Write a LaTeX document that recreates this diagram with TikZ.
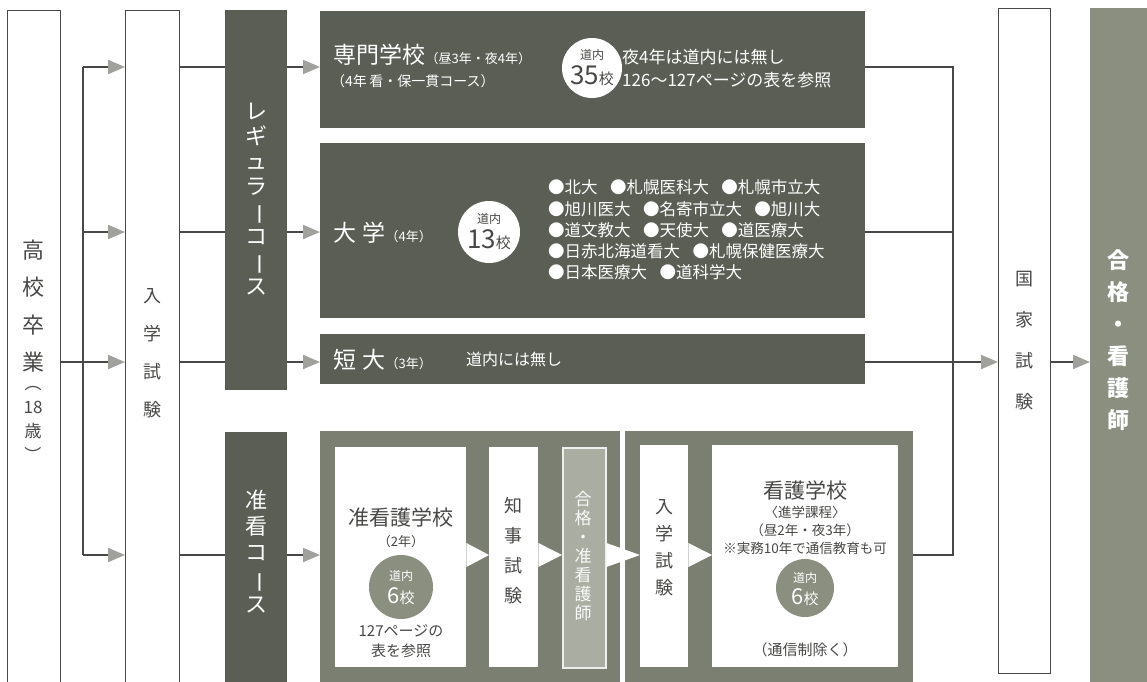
\documentclass[tikz,border=0pt]{standalone}
\usepackage{fontspec}
\usepackage{graphicx}
\setmainfont{Noto Sans CJK JP}
\usetikzlibrary{arrows.meta,positioning,calc}
\definecolor{slate}{RGB}{90,94,84}
\definecolor{fern}{RGB}{122,127,113}
\definecolor{moss}{RGB}{138,143,128}
\definecolor{mist}{RGB}{170,174,162}
\definecolor{ink}{RGB}{72,72,70}
\definecolor{tipgray}{RGB}{160,160,156}
\newcommand{\fs}[1]{\fontsize{#1}{#1}\selectfont}
\newcommand{\tbar}{\rotatebox[origin=c]{-90}{ー}}
\tikzset{
  >={Triangle[length=17pt,width=14pt,color=tipgray]},
  outline/.style={draw=ink,line width=1.3pt,fill=white,anchor=north west,inner sep=0pt},
  darkbar/.style={fill=#1,anchor=north west,inner sep=0pt},
  darkbar/.default=slate,
  card/.style={fill=white,anchor=north west,inner sep=0pt},
  vlabel/.style={align=center,inner sep=0pt,text=#1},
  vlabel/.default=ink,
  note/.style={anchor=west,inner sep=0pt,text=white},
  link/.style={draw=ink,line width=2pt},
  flow/.style={link,->},
  badge/.style={circle,fill=#1,minimum size=60pt,inner sep=0pt},
  badge/.default=white,
  wedge/.style={fill=white},
}

\begin{document}
\begin{tikzpicture}[x=1pt,y=-1pt]
  \useasboundingbox (0,0) rectangle (1147,681);
  % rows of the flow
  \coordinate (r1) at (0,67);
  \coordinate (r2) at (0,232);
  \coordinate (r3) at (0,362);
  \coordinate (r4) at (0,555);
  \coordinate (fork) at (83,0);
  \coordinate (bus) at (953,0);

  % left columns
  \node[outline,minimum width=53,minimum height=690] (grad) at (7,10) {};
  \node[outline,minimum width=54,minimum height=690] (exam) at (125,10) {};
  \node[darkbar,minimum width=62,minimum height=380] (reg) at (225,10) {};
  \node[darkbar,minimum width=62,minimum height=260] (assoc) at (225,432) {};
  \node[vlabel,font=\fontsize{22}{37.5}\selectfont] (gradtxt) at (33,306) {高\\校\\卒\\業};
  \node[vlabel,font=\fontsize{17}{24}\selectfont] (agetxt) at (33,424) {︵\\18\\歳\\︶};
  \node[vlabel,font=\fontsize{18}{38}\selectfont] (examtxt) at (152,353) {入\\学\\試\\験};
  \node[vlabel=white,font=\fontsize{22}{25}\selectfont] (regtxt) at (256,199)
    {レ\\ギ\\ュ\\ラ\\\tbar\\コ\\\tbar\\ス};
  \node[vlabel=white,font=\fontsize{22}{26}\selectfont] (assoctxt) at (256,552)
    {准\\看\\コ\\\tbar\\ス};

  % regular course boxes
  \node[darkbar,minimum width=545,minimum height=117] (senmon) at (320,11) {};
  \node[darkbar,minimum width=545,minimum height=175] (univ) at (320,143) {};
  \node[darkbar,minimum width=545,minimum height=50] (tandai) at (320,334) {};

  \node[note,font=\fs{23}] (senmontxt) at (333,55) {専門学校};
  \node[note,anchor=base west,font=\fs{13}] (senmonyrs) at (senmontxt.base east) {（昼3年・夜4年）};
  \node[note,font=\fs{14}] (senmonsub) at (331,81) {（4年\,看・保一貫コース）};
  \node[badge] (senmonbadge) at (592,68) {};
  \node[font=\fs{12},text=ink,inner sep=0pt] (senmonb1) at ([yshift=13pt]senmonbadge.center) {道内};
  \node[font=\fs{26},text=ink,inner sep=0pt] (senmonb2) at ([yshift=-8pt]senmonbadge.center) {35{\fs{15}校}};
  \node[note,font=\fs{17}] (senmonnote1) at (622,57) {夜4年は道内には無し};
  \node[note,font=\fs{17}] (senmonnote2) at (622,80) {126～127ページの表を参照};

  \node[note,font=\fs{23}] (univtxt) at (333,233) {大\hspace{6pt}学};
  \node[note,anchor=base west,font=\fs{13}] (univyrs) at (univtxt.base east) {（4年）};
  \node[badge,minimum size=62pt] (univbadge) at (489,232) {};
  \node[font=\fs{12},text=ink,inner sep=0pt] (univb1) at ([yshift=13pt]univbadge.center) {道内};
  \node[font=\fs{26},text=ink,inner sep=0pt] (univb2) at ([yshift=-8pt]univbadge.center) {13{\fs{15}校}};
  \node[note,align=left,font=\fontsize{16.5}{21.3}\selectfont] (univlist) at (548,230)
    {●北大\hspace{0.75em}●札幌医科大\hspace{0.75em}●札幌市立大\\
     ●旭川医大\hspace{0.75em}●名寄市立大\hspace{0.75em}●旭川大\\
     ●道文教大\hspace{0.75em}●天使大\hspace{0.75em}●道医療大\\
     ●日赤北海道看大\hspace{0.75em}●札幌保健医療大\\
     ●日本医療大\hspace{0.75em}●道科学大};

  \node[note,font=\fs{23}] (tandaitxt) at (333,360) {短\hspace{6pt}大};
  \node[note,anchor=base west,font=\fs{13}] (tandaiyrs) at (tandaitxt.base east) {（3年）};
  \node[note,font=\fs{16}] (tandainote) at (466,359) {道内には無し};

  % assistant nurse course
  \node[darkbar=fern,minimum width=300,minimum height=260] (frameA) at (320,431) {};
  \node[darkbar=fern,minimum width=288,minimum height=260] (frameB) at (625,431) {};
  \node[card,minimum width=131,minimum height=220] (prep) at (335,447) {};
  \node[card,minimum width=49,minimum height=220] (pref) at (489,447) {};
  \node[fill=mist,draw=white!80!mist,line width=1.5pt,anchor=north west,inner sep=0pt,
    minimum width=43,minimum height=220] (lic) at (562,447) {};
  \node[card,minimum width=48,minimum height=222] (exam2) at (640,445) {};
  \node[card,minimum width=186,minimum height=222] (nurse) at (712,445) {};
  \fill[wedge] ([yshift=12pt]prep.east |- r4) -- (pref.west |- r4) -- ([yshift=-12pt]prep.east |- r4) -- cycle;
  \fill[wedge] ([yshift=12pt]pref.east |- r4) -- (lic.west |- r4) -- ([yshift=-12pt]pref.east |- r4) -- cycle;
  \fill[wedge] ([yshift=12pt]lic.east |- r4) -- (exam2.west |- r4) -- ([yshift=-12pt]lic.east |- r4) -- cycle;
  \fill[wedge] ([yshift=12pt]exam2.east |- r4) -- (nurse.west |- r4) -- ([yshift=-12pt]exam2.east |- r4) -- cycle;

  \node[text=ink,font=\fs{21},inner sep=0pt] (preptxt) at (401,517) {准看護学校};
  \node[text=ink,font=\fs{13},inner sep=0pt] (prepyrs) at (401,542) {（2年）};
  \node[badge=moss,minimum size=64pt] (prepbadge) at (401,587) {};
  \node[font=\fs{12},text=white,inner sep=0pt] (prepb1) at ([yshift=11pt]prepbadge.center) {道内};
  \node[font=\fs{22},text=white,inner sep=0pt] (prepb2) at ([yshift=-9pt]prepbadge.center) {6{\fs{15}校}};
  \node[text=ink,font=\fontsize{15}{20}\selectfont,align=center,inner sep=0pt] (prepnote) at (401,641)
    {127ページの\\表を参照};
  \node[vlabel,font=\fontsize{18}{30}\selectfont] (preftxt) at (513,551) {知\\事\\試\\験};
  \node[vlabel=white!92!mist,font=\fontsize{17}{19}\selectfont] (lictxt) at (583,556)
    {合\\格\\・\\准\\看\\護\\師};
  \node[vlabel,font=\fontsize{18}{27}\selectfont] (exam2txt) at (664,548) {入\\学\\試\\験};
  \node[text=ink,font=\fs{21},inner sep=0pt] (nursetxt) at (805,490) {看護学校};
  \node[text=ink,font=\fontsize{13.5}{18}\selectfont,align=center,inner sep=0pt] (nursesub) at (805,530)
    {〈進学課程〉\\（昼2年・夜3年）\\※実務10年で通信教育も可};
  \node[badge=moss,minimum size=58pt] (nursebadge) at (805,588) {};
  \node[font=\fs{12},text=white,inner sep=0pt] (nurseb1) at ([yshift=10pt]nursebadge.center) {道内};
  \node[font=\fs{22},text=white,inner sep=0pt] (nurseb2) at ([yshift=-9pt]nursebadge.center) {6{\fs{15}校}};
  \node[text=ink,font=\fs{15},inner sep=0pt] (nursenote) at (805,650) {（通信制除く）};

  % national exam and goal
  \node[outline,minimum width=52,minimum height=665] (natl) at (998,8) {};
  \node[darkbar=moss,minimum width=60,minimum height=690] (pass) at (1090,8) {};
  \node[vlabel,font=\fontsize{18}{41}\selectfont] (natltxt) at (1024,341) {国\\家\\試\\験};
  \node[vlabel=white,font=\fontsize{22}{32}\selectfont\bfseries] (passtxt) at (1118,340)
    {合\\格\\・\\看\\護\\師};

  % connectors, left side
  \draw[link] (grad.east |- r3) -- (fork |- r3);
  \draw[link] (fork |- r1) -- (fork |- r4);
  \foreach \r in {r1,r2,r3,r4} {
    \draw[flow] (fork |- \r) -- (exam.west |- \r);
  }
  \foreach \r in {r1,r2,r3} {
    \draw[link] (exam.east |- \r) -- (reg.west |- \r);
    \draw[flow] (reg.east |- \r) -- (senmon.west |- \r);
  }
  \draw[link] (exam.east |- r4) -- (assoc.west |- r4);
  \draw[flow] (assoc.east |- r4) -- (frameA.west |- r4);

  % connectors, right side
  \draw[link] (senmon.east |- r1) -- (bus |- r1) -- (bus |- r4) -- (frameB.east |- r4);
  \draw[link] (univ.east |- r2) -- (bus |- r2);
  \draw[flow] (tandai.east |- r3) -- (natl.west |- r3);
  \draw[flow] (natl.east |- r3) -- (pass.west |- r3);
\end{tikzpicture}
\end{document}
